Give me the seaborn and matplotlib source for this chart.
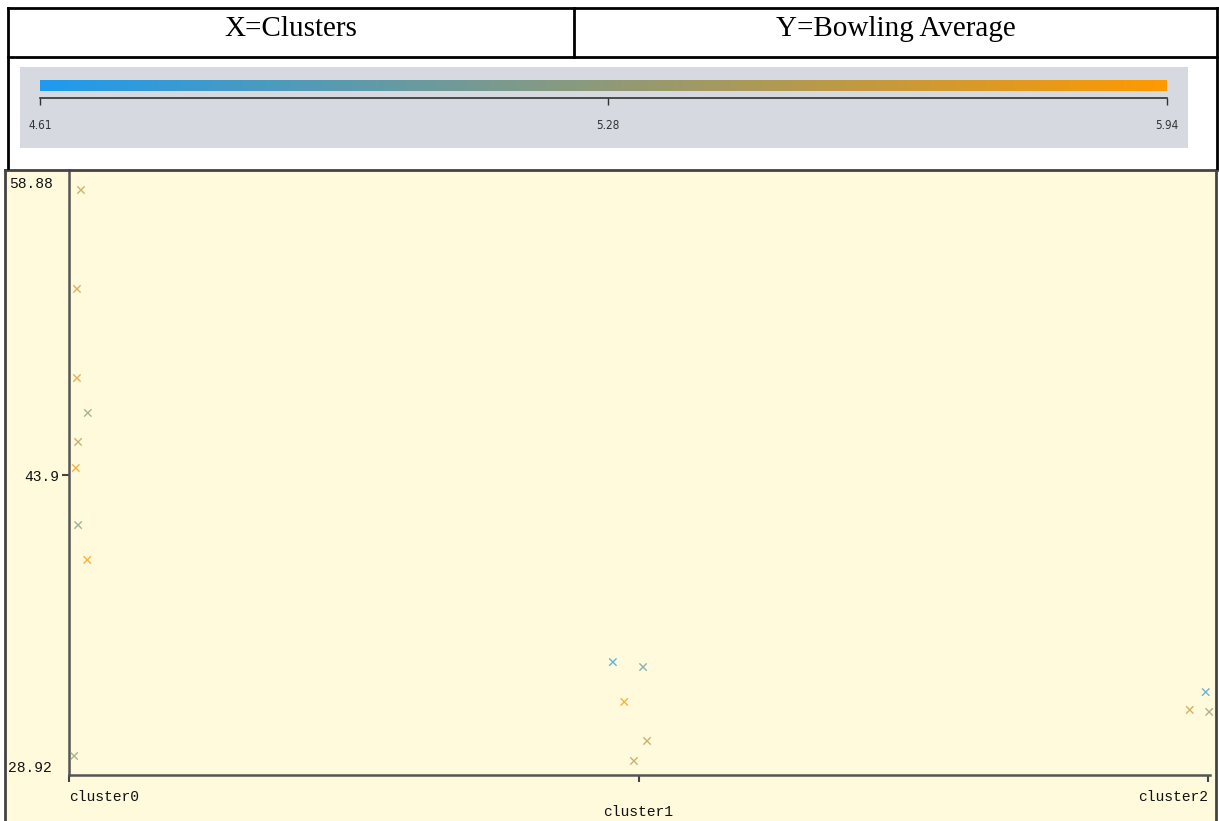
import numpy as np
import pandas as pd
import matplotlib
matplotlib.use("Agg")
import matplotlib.pyplot as plt
from matplotlib.colors import LinearSegmentedColormap
from matplotlib.patches import Rectangle
from matplotlib.lines import Line2D
import matplotlib.transforms as mtransforms
import seaborn as sns

# ---- data -------------------------------------------------------------
clusters = ["cluster0", "cluster1", "cluster2"]
cluster_idx = [0, 0, 0, 0, 0, 0, 0, 0, 0, 1, 1, 1, 1, 1, 2, 2, 2]
jitter = [0.021, 0.014, 0.014, 0.033, 0.016, 0.012, 0.016, 0.032, 0.009,
          -0.045, 0.008, -0.025, 0.015, -0.008,
          -0.004, -0.032, 0.002]
bowling_avg = [58.13, 53.19, 48.74, 47.00, 45.55, 44.25, 41.40, 39.66, 29.87,
               34.56, 34.31, 32.57, 30.62, 29.62,
               33.06, 32.17, 32.07]
color_value = [5.55, 5.65, 5.75, 5.30, 5.50, 5.85, 5.20, 5.90, 5.25,
               4.70, 5.00, 5.90, 5.50, 5.50,
               4.80, 5.60, 5.30]
y_ticks = [28.92, 43.9, 58.88]
cbar_ticks = [4.61, 5.28, 5.94]
cbar_min, cbar_max = 4.61, 5.94

df = pd.DataFrame({
    "xpos": np.array(cluster_idx) + np.array(jitter),
    "avg": bowling_avg,
    "score": color_value,
})

cmap = LinearSegmentedColormap.from_list("blue_orange", ["#1e9bf0", "#ff9900"])

# ---- figure -----------------------------------------------------------
W, H = 1219, 821
fig = plt.figure(figsize=(W / 100, H / 100), dpi=100)
fig.patch.set_facecolor("white")


def box(x0, y0, x1, y1):
    """Figure-fraction rectangle [left, bottom, width, height] from pixel corners."""
    return [x0 / W, 1 - y1 / H, (x1 - x0) / W, (y1 - y0) / H]


def hline(x0, x1, y, **kw):
    fig.add_artist(Line2D([x0 / W, x1 / W], [1 - y / H, 1 - y / H],
                          transform=fig.transFigure, **kw))


def vline(x, y0, y1, **kw):
    fig.add_artist(Line2D([x / W, x / W], [1 - y0 / H, 1 - y1 / H],
                          transform=fig.transFigure, **kw))


# plot panel background
fig.add_artist(Rectangle((5 / W, 0), (1217 - 5) / W, 1 - 170 / H,
                         transform=fig.transFigure, facecolor="#fffadc",
                         edgecolor="none", zorder=0))
vline(5, 170, 821, color="#444444", lw=2)
vline(1216, 170, 821, color="#444444", lw=2)
hline(5, 1217, 170, color="#444444", lw=2)

# header table
tbl = dict(color="black", lw=2)
hline(8, 1217, 8, **tbl)
hline(8, 1217, 57, **tbl)
vline(8, 8, 168, **tbl)
vline(1217, 8, 168, **tbl)
vline(574, 8, 57, **tbl)
fig.text(291 / W, 1 - 35.5 / H, "X=Clusters", ha="center", va="baseline",
         family="Liberation Serif", fontsize=21)
fig.text(896 / W, 1 - 35.5 / H, "Y=Bowling Average", ha="center", va="baseline",
         family="Liberation Serif", fontsize=21)

# colour scale panel
fig.add_artist(Rectangle((20 / W, 1 - 148 / H), (1188 - 20) / W, (148 - 67) / H,
                         transform=fig.transFigure, facecolor="#d6d9e0",
                         edgecolor="none", zorder=0))
cax = fig.add_axes(box(40, 80, 1167, 91))
grad = np.linspace(cbar_min, cbar_max, 512).reshape(1, -1)
cax.imshow(grad, aspect="auto", cmap=cmap, extent=(cbar_min, cbar_max, 0, 1),
           vmin=cbar_min, vmax=cbar_max)
cax.set_axis_off()

tax = fig.add_axes(box(40, 97, 1167, 98))
tax.set_xlim(cbar_min, cbar_max)
tax.set_facecolor("none")
for s in ["top", "left", "right"]:
    tax.spines[s].set_visible(False)
tax.spines["bottom"].set_color("#333333")
tax.spines["bottom"].set_linewidth(1.2)
tax.set_yticks([])
tax.set_xticks(cbar_ticks)
tax.set_xticklabels([f"{v:.2f}" for v in cbar_ticks])
tax.tick_params(axis="x", length=5, width=1, color="#333333", pad=10,
                labelsize=8.5, labelcolor="#333333")
for lbl in tax.get_xticklabels():
    lbl.set_family("DejaVu Sans")
    lbl.set_stretch("condensed")

# scatter panel
ax = fig.add_axes(box(69, 170, 1210, 775))
ax.set_facecolor("none")
sns.scatterplot(data=df, x="xpos", y="avg", hue="score", palette=cmap,
                hue_norm=(cbar_min, cbar_max), marker="x", s=28, linewidth=1.0,
                alpha=0.75, legend=False, ax=ax, zorder=3, clip_on=False)
ax.set_xlim(0, 2.0035)
ax.set_ylim(28.92, 28.92 + 605 / 600 * (58.88 - 28.92))
ax.set_xlabel("")
ax.set_ylabel("")
for s in ["top", "right"]:
    ax.spines[s].set_visible(False)
for s in ["left", "bottom"]:
    ax.spines[s].set_color("#555555")
    ax.spines[s].set_linewidth(1.8)

ax.set_xticks([0, 1, 2])
ax.set_xticklabels([clusters[0], "\n" + clusters[1], clusters[2]])
ax.tick_params(axis="x", length=5, width=1.5, color="#444444", pad=6,
               labelsize=10.5, labelcolor="#111111")
xl = ax.get_xticklabels()
xl[0].set_ha("left")
xl[1].set_ha("center")
xl[2].set_ha("right")
for lbl in xl:
    lbl.set_family("Liberation Mono")
    lbl.set_linespacing(1.05)

ax.set_yticks(y_ticks)
ax.set_yticklabels([f"{v:g}" for v in y_ticks])
ax.tick_params(axis="y", length=5, width=1.5, color="#444444", pad=2,
               labelsize=10.5, labelcolor="#111111")
yl = ax.get_yticklabels()
for lbl in yl:
    lbl.set_family("Liberation Mono")
yt = ax.yaxis.get_major_ticks()
yt[0].tick1line.set_visible(False)
yt[2].tick1line.set_visible(False)
yl[0].set_va("bottom")
yl[2].set_va("top")
yl[2].set_transform(yl[2].get_transform() +
                    mtransforms.ScaledTranslation(-6 / 100, -2 / 100, fig.dpi_scale_trans))
yl[0].set_transform(yl[0].get_transform() +
                    mtransforms.ScaledTranslation(-8 / 100, 0, fig.dpi_scale_trans))

fig.savefig("out.png", dpi=100)
